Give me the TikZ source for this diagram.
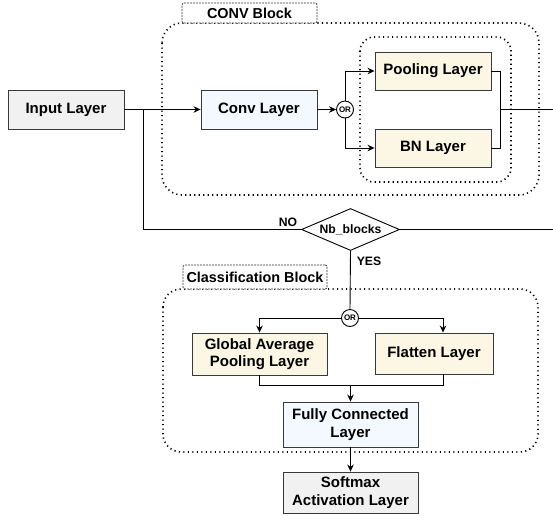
\documentclass[tikz,border=0pt]{standalone}
\usepackage{fontspec}
\setmainfont{Liberation Sans}
\usetikzlibrary{shapes.geometric,arrows.meta,shadows}
\definecolor{strokec}{HTML}{36393D}
\definecolor{grayf}{HTML}{F1F1F1}
\definecolor{bluef}{HTML}{F3F9FF}
\definecolor{creamf}{HTML}{FCF6E5}
\begin{document}
\begin{tikzpicture}[x=1pt,y=-1pt,line width=0.9pt,
  layer/.style={draw=strokec, line width=0.9pt, font=\fontsize{15}{17.5}\selectfont\bfseries, align=center, inner sep=0pt,
    drop shadow={shadow xshift=1.2pt, shadow yshift=-1.2pt, fill=black!45, opacity=1}},
  orc/.style={draw=black, circle, minimum size=17pt, inner sep=0pt, fill=white, font=\fontsize{8}{9}\selectfont\bfseries},
  lbl/.style={draw=strokec, line width=0.7pt, dash pattern=on 2pt off 1pt, rounded corners=2pt, fill=white, inner sep=0pt, font=\fontsize{14.4}{16}\selectfont\bfseries},
  dotc/.style={draw=black, line width=1.6pt, dash pattern=on 1.2pt off 3.3pt},
  small/.style={font=\fontsize{12.2}{14}\selectfont\bfseries, inner sep=0pt},
  arr/.style={-{Stealth[length=7pt,width=6.5pt]}},
]
\useasboundingbox (0,0) rectangle (553,515);
% containers
\draw[dotc, rounded corners=20pt] (162,23) rectangle (539,195);
\draw[dotc, rounded corners=14pt] (360,37) rectangle (511,182);
\draw[dotc, rounded corners=18pt] (163,289) rectangle (538,452);
% labels
\node[lbl, minimum width=135pt, minimum height=20pt] (convlbl) at (249.5,13) {CONV Block};
\node[lbl, minimum width=144pt, minimum height=24pt] (clslbl) at (255,277) {Classification Block};
% nodes
\node[layer, fill=grayf, minimum width=116pt, minimum height=39pt] (input) at (66,109.5) {Input Layer};
\node[layer, fill=bluef, minimum width=116pt, minimum height=39pt] (conv) at (259,109.5) {Conv Layer};
\node[orc] (or1) at (345,109.5) {OR};
\node[layer, fill=creamf, minimum width=116pt, minimum height=38pt] (pool) at (433,71) {Pooling Layer};
\node[layer, fill=creamf, minimum width=116pt, minimum height=38pt] (bn) at (433,148) {BN Layer};
\node[draw=black, diamond, aspect=2.33, minimum width=98pt, minimum height=42pt, inner sep=0pt, fill=white, font=\fontsize{12.2}{14}\selectfont\bfseries] (nb) at (350.5,229.5) {Nb\_blocks};
\node[orc] (or2) at (350,318) {OR};
\node[layer, fill=creamf, minimum width=135pt, minimum height=42pt] (gap) at (259.5,354) {Global Average\\Pooling Layer};
\node[layer, fill=creamf, minimum width=118pt, minimum height=41pt] (flat) at (434,353.5) {Flatten Layer};
\node[layer, fill=bluef, minimum width=135pt, minimum height=45pt] (fc) at (350.5,424.5) {Fully Connected\\Layer};
\node[layer, fill=grayf, minimum width=135pt, minimum height=41pt] (soft) at (350.5,492.5) {Softmax\\Activation Layer};
\node[small] (nolbl) at (288,222) {NO};
\node[small] (yeslbl) at (369,261.5) {YES};
% coordinates
\coordinate (split) at (143,109.5);
\coordinate (mrg) at (500,109.5);
\coordinate (outr) at (553,109.5);
\coordinate (outr2) at (553,229.5);
\coordinate (jn) at (350.5,385);
% connectors
\draw[arr] (input.east) -- (conv.west);
\draw (split) |- (nb.west);
\draw[arr] (conv.east) -- (or1.west);
\draw[arr] (or1.north) |- (pool.west);
\draw[arr] (or1.south) |- (bn.west);
\draw (pool.east) -| (mrg) |- (bn.east);
\draw (mrg) -- (outr);
\draw (nb.east) -- (outr2);
\draw (nb.south) -- (or2.north);
\draw[arr] (or2.west) -| (gap.north);
\draw[arr] (or2.east) -| ([xshift=9pt]flat.north);
\draw (gap.south) -- ++(0,10) -| ([xshift=9pt]flat.south);
\draw[arr] (jn) -- (fc.north);
\draw[arr] (fc.south) -- (soft.north);
\end{tikzpicture}
\end{document}
